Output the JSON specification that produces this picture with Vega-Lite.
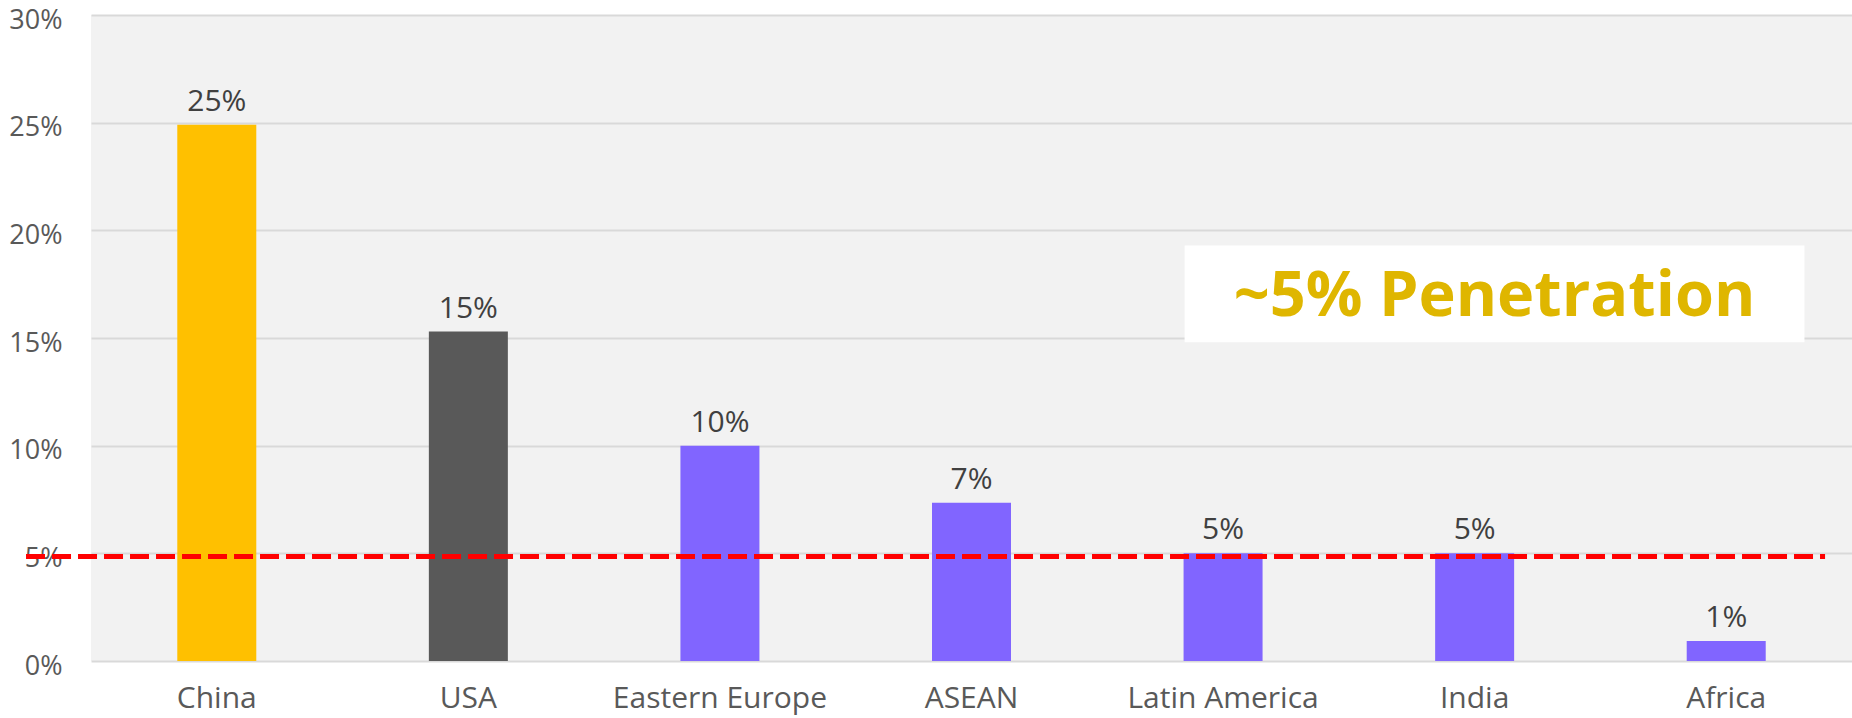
{
  "$schema": "https://vega.github.io/schema/vega-lite/v6.json",
  "width": 1761,
  "height": 646,
  "autosize": {"type": "none"},
  "padding": {"left": 91, "top": 15, "right": 0, "bottom": 57},
  "background": "#ffffff",
  "config": {
    "view": {"fill": "#f2f2f2", "stroke": null},
    "font": "Open Sans"
  },
  "resolve": {"scale": {"x": "independent"}},
  "layer": [
    {
      "data": {
        "values": [
          {"region": "China", "share": 0.249},
          {"region": "USA", "share": 0.153},
          {"region": "Eastern Europe", "share": 0.100},
          {"region": "ASEAN", "share": 0.0735},
          {"region": "Latin America", "share": 0.050},
          {"region": "India", "share": 0.050},
          {"region": "Africa", "share": 0.0093}
        ]
      },
      "encoding": {
        "x": {
          "field": "region", "type": "nominal", "sort": null,
          "scale": {"paddingInner": 0.686, "paddingOuter": 0.343},
          "axis": {"title": null, "labelAngle": 0, "ticks": false, "domain": false, "labelFontSize": 30, "labelColor": "#595959", "labelPadding": 22, "labelLimit": 0, "grid": false}
        },
        "y": {
          "field": "share", "type": "quantitative",
          "scale": {"domain": [0, 0.3], "nice": false},
          "axis": {"title": null, "values": [0, 0.05, 0.1, 0.15, 0.2, 0.25, 0.3], "format": ".0%", "ticks": false, "domain": false, "labelFontSize": 27, "labelColor": "#595959", "labelPadding": 29, "labelOffset": 5, "gridColor": "#d9d9d9", "gridWidth": 2}
        }
      },
      "layer": [
        {
          "mark": {"type": "bar"},
          "encoding": {
            "color": {
              "field": "region", "type": "nominal", "legend": null,
              "scale": {
                "domain": ["China", "USA", "Eastern Europe", "ASEAN", "Latin America", "India", "Africa"],
                "range": ["#FFC000", "#595959", "#8165FF", "#8165FF", "#8165FF", "#8165FF", "#8165FF"]
              }
            }
          }
        },
        {
          "mark": {"type": "text", "baseline": "bottom", "dy": -8, "fontSize": 30, "color": "#404040"},
          "encoding": {
            "text": {"field": "share", "type": "quantitative", "format": ".0%"}
          }
        }
      ]
    },
    {
      "data": {"values": [{"label": "~5% Penetration", "x0": 0.621, "x1": 0.973, "y0": 0.148, "y1": 0.193, "xc": 0.797, "yc": 0.169, "rx0": -0.0369, "rx1": 0.9847, "ry": 0.0485}]},
      "layer": [
        {
          "mark": {"type": "rule", "color": "#FF0000", "strokeWidth": 5, "strokeDash": [19, 7]},
          "encoding": {
            "x": {"field": "rx0", "type": "quantitative", "scale": {"domain": [0, 1]}, "axis": null},
            "x2": {"field": "rx1"},
            "y": {"field": "ry", "type": "quantitative"}
          }
        },
        {
          "mark": {"type": "rect", "color": "#ffffff"},
          "encoding": {
            "x": {"field": "x0", "type": "quantitative", "scale": {"domain": [0, 1]}, "axis": null},
            "x2": {"field": "x1"},
            "y": {"field": "y0", "type": "quantitative"},
            "y2": {"field": "y1"}
          }
        },
        {
          "mark": {"type": "text", "fontSize": 63, "fontWeight": "bold", "color": "#DFB600", "baseline": "middle", "align": "center"},
          "encoding": {
            "x": {"field": "xc", "type": "quantitative", "scale": {"domain": [0, 1]}, "axis": null},
            "y": {"field": "yc", "type": "quantitative"},
            "text": {"field": "label"}
          }
        }
      ]
    }
  ]
}
